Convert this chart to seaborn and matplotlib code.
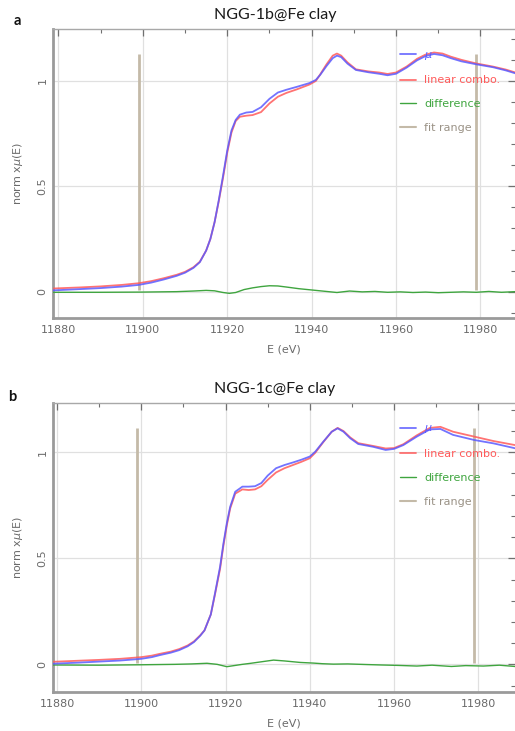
import numpy as np
import pandas as pd
import matplotlib
matplotlib.use("Agg")
import matplotlib.pyplot as plt
from matplotlib.ticker import MultipleLocator
from matplotlib.lines import Line2D
import seaborn as sns

# ---------------- data ----------------
titles = ["NGG-1b@Fe clay", "NGG-1c@Fe clay"]
panel_tags = ["a", "b"]
legend_labels = [r"$\mu$", "linear combo.", "difference", "fit range"]

E_a = [11878.7, 11885, 11890, 11895, 11899, 11902, 11905, 11908, 11910, 11912,
       11913.5, 11915, 11916, 11917, 11918, 11919, 11920, 11921, 11922, 11923,
       11924.5, 11926, 11928, 11930, 11932, 11934, 11936.5, 11939.5, 11941, 11942,
       11943.5, 11945, 11946, 11947, 11948.5, 11950.5, 11953.5, 11956, 11958, 11960,
       11962.5, 11965, 11967, 11969, 11971, 11973, 11975.5, 11979, 11983, 11986,
       11988.3]
mu_a = [0.006, 0.012, 0.017, 0.024, 0.032, 0.043, 0.058, 0.075, 0.090, 0.113,
        0.140, 0.195, 0.250, 0.330, 0.435, 0.550, 0.670, 0.765, 0.815, 0.840,
        0.850, 0.853, 0.875, 0.915, 0.945, 0.958, 0.972, 0.990, 1.005, 1.028,
        1.070, 1.108, 1.120, 1.113, 1.082, 1.052, 1.041, 1.034, 1.027, 1.034,
        1.063, 1.098, 1.118, 1.128, 1.122, 1.108, 1.093, 1.079, 1.065, 1.050,
        1.036]
lc_a = [0.015, 0.020, 0.025, 0.032, 0.040, 0.050, 0.064, 0.080, 0.094, 0.116,
        0.142, 0.195, 0.250, 0.330, 0.430, 0.540, 0.660, 0.755, 0.810, 0.830,
        0.835, 0.838, 0.852, 0.893, 0.925, 0.943, 0.960, 0.983, 1.000, 1.030,
        1.078, 1.120, 1.130, 1.120, 1.088, 1.055, 1.045, 1.040, 1.033, 1.040,
        1.068, 1.105, 1.125, 1.135, 1.130, 1.115, 1.100, 1.083, 1.068, 1.054,
        1.040]
Ed_a = [11878.7, 11890, 11900, 11908, 11912, 11915, 11917, 11919, 11920.5, 11922,
        11924, 11926, 11928, 11930, 11932, 11934, 11937, 11940, 11943, 11946,
        11949, 11952, 11955, 11958, 11961, 11964, 11967, 11970, 11973, 11976,
        11979, 11982, 11985, 11988.3]
diff_a = [-0.003, -0.003, -0.002, 0.000, 0.003, 0.006, 0.004, -0.004, -0.008, -0.004,
          0.010, 0.018, 0.024, 0.028, 0.027, 0.022, 0.014, 0.008, 0.002, -0.004,
          0.003, -0.001, 0.001, -0.003, -0.001, -0.004, -0.002, -0.005, -0.003, -0.001,
          -0.003, 0.001, -0.003, 0.000]

E_b = [11879.0, 11885, 11890, 11895, 11900, 11902.5, 11904.5, 11907, 11909, 11911,
       11912.5, 11914, 11915, 11916.5, 11917.5, 11918.7, 11919.5, 11920.3, 11921.1, 11922.3,
       11924, 11925.5, 11927, 11928.5, 11930, 11932, 11934, 11936, 11938, 11940,
       11941.3, 11943.2, 11945.2, 11946.6, 11948, 11949.6, 11951.5, 11955, 11958, 11960,
       11962.2, 11965.4, 11968.5, 11971, 11974, 11979, 11983.6, 11988.7]
mu_b = [0.003, 0.008, 0.013, 0.018, 0.026, 0.034, 0.044, 0.055, 0.067, 0.085,
        0.105, 0.135, 0.160, 0.235, 0.335, 0.460, 0.570, 0.665, 0.743, 0.814,
        0.838, 0.838, 0.840, 0.855, 0.890, 0.925, 0.940, 0.952, 0.965, 0.980,
        1.003, 1.050, 1.097, 1.113, 1.097, 1.066, 1.039, 1.026, 1.011, 1.016,
        1.034, 1.074, 1.108, 1.110, 1.082, 1.058, 1.042, 1.019]
lc_b = [0.012, 0.017, 0.021, 0.026, 0.034, 0.041, 0.050, 0.060, 0.072, 0.089,
        0.108, 0.137, 0.160, 0.235, 0.330, 0.450, 0.560, 0.655, 0.735, 0.805,
        0.825, 0.822, 0.825, 0.840, 0.870, 0.905, 0.925, 0.940, 0.955, 0.972,
        0.998, 1.048, 1.097, 1.115, 1.100, 1.070, 1.043, 1.030, 1.018, 1.020,
        1.038, 1.080, 1.115, 1.120, 1.097, 1.074, 1.053, 1.034]
Ed_b = [11879, 11890, 11900, 11908, 11912, 11915.6, 11918, 11920.3, 11922, 11924,
        11926, 11928.5, 11931.4, 11934, 11937.7, 11940.8, 11943, 11945.6, 11949, 11953.6,
        11957, 11961, 11965.4, 11969, 11973.6, 11977, 11981.2, 11985, 11988.7]
diff_b = [-0.003, -0.004, -0.002, 0.000, 0.002, 0.005, 0.000, -0.011, -0.006, 0.000,
          0.005, 0.012, 0.020, 0.016, 0.009, 0.006, 0.003, 0.001, 0.002, -0.001,
          -0.003, -0.005, -0.008, -0.004, -0.010, -0.006, -0.008, -0.004, -0.010]

fit_range = [11899, 11979]
fit_ylim_a = [0.01, 1.127]
fit_ylim_b = [0.008, 1.113]

xlim_a = [11878.7, 11988.2]
xlim_b = [11879.05, 11988.7]
ylim_a = [-0.125, 1.245]
ylim_b = [-0.129, 1.231]

# ---------------- style ----------------
sns.set_theme(style="white")
plt.rcParams["font.family"] = ["DejaVu Sans"]

C_MU = "#5a5aff"
C_LC = "#ff5a5a"
C_DIFF = "#3fa53f"
C_FIT = "#c4baa8"
C_TXT = "#6a6a6a"

W, H = 515, 731
fig = plt.figure(figsize=(W / 100, H / 100), dpi=100)

axes_px = [(53, 29.3, 515, 318.0), (53, 403.3, 515, 691.7)]
title_y = [15, 389]
tag_pos = [(17, 21), (12, 397)]
leg_anchor = [(0.751, 0.93), (0.751, 0.93)]

panels = [
    (E_a, mu_a, lc_a, Ed_a, diff_a, fit_ylim_a, xlim_a, ylim_a),
    (E_b, mu_b, lc_b, Ed_b, diff_b, fit_ylim_b, xlim_b, ylim_b),
]

for i, (E, mu, lc, Ed, dd, fyl, xl, yl) in enumerate(panels):
    x0, y0, x1, y1 = axes_px[i]
    ax = fig.add_axes([x0 / W, 1 - y1 / H, (x1 - x0) / W, (y1 - y0) / H])

    df = pd.DataFrame({"E": E, "mu": mu, "lc": lc})
    dfd = pd.DataFrame({"E": Ed, "diff": dd})

    ax.vlines(fit_range, fyl[0], fyl[1], colors=C_FIT, lw=2.0, zorder=2)
    sns.lineplot(data=df, x="E", y="lc", ax=ax, color=C_LC, lw=1.3, alpha=0.85,
                 sort=False, zorder=3)
    sns.lineplot(data=df, x="E", y="mu", ax=ax, color=C_MU, lw=1.3, alpha=0.85,
                 sort=False, zorder=4)
    sns.lineplot(data=dfd, x="E", y="diff", ax=ax, color=C_DIFF, lw=1.0,
                 sort=False, zorder=3)

    lines = ax.get_lines()
    h_lc, h_mu, h_diff = lines[0], lines[1], lines[2]
    h_fit = Line2D([], [], color=C_FIT, lw=1.5)
    leg = ax.legend([h_mu, h_lc, h_diff, h_fit], legend_labels,
                    loc="upper left", bbox_to_anchor=leg_anchor[i],
                    frameon=False, fontsize=8, handlelength=1.4,
                    handletextpad=0.8, labelspacing=1.25, borderpad=0,
                    borderaxespad=0)
    for t, c in zip(leg.get_texts(), [C_MU, C_LC, C_DIFF, "#9a9286"]):
        t.set_color(c)

    ax.set_xlim(*xl)
    ax.set_ylim(*yl)
    ax.xaxis.set_major_locator(MultipleLocator(20))
    ax.xaxis.set_minor_locator(MultipleLocator(10))
    ax.yaxis.set_major_locator(MultipleLocator(0.5))
    ax.yaxis.set_minor_locator(MultipleLocator(0.1))
    ax.set_yticks([0, 0.5, 1])
    ax.set_yticklabels(["0", "0.5", "1"])
    ax.grid(True, which="major", color="#e0e0e0", lw=0.9)
    ax.set_axisbelow(True)

    ax.tick_params(which="both", direction="in", top=True, right=True,
                   colors="#707070", labelcolor=C_TXT, labelsize=8)
    ax.tick_params(which="major", length=5, width=0.9)
    ax.tick_params(which="minor", length=3, width=0.8)
    ax.tick_params(axis="x", pad=5)
    ax.tick_params(axis="y", pad=4)
    for lab in ax.get_yticklabels():
        lab.set_rotation(90)
        lab.set_va("center")

    ax.set_xlabel("E (eV)", color=C_TXT, fontsize=8, labelpad=7)
    ax.set_ylabel(r"norm x$\mu$(E)", color=C_TXT, fontsize=8, labelpad=9)

    for s in ["left", "bottom"]:
        ax.spines[s].set_color("#9a9a9a")
        ax.spines[s].set_linewidth(2.0)
    ax.spines["top"].set_color("#a8a8a8")
    ax.spines["top"].set_linewidth(1.0)
    ax.spines["right"].set_visible(False)

    fig.text(275 / W, 1 - title_y[i] / H, titles[i], ha="center", va="center",
             fontsize=11.5, family=["Lato", "DejaVu Sans"], color="#1a1a1a")
    fig.text(tag_pos[i][0] / W, 1 - tag_pos[i][1] / H, panel_tags[i],
             ha="center", va="center", fontsize=10.5, fontweight="bold",
             family=["Lato", "DejaVu Sans"], color="#111111")

fig.savefig("out.png", dpi=100)
